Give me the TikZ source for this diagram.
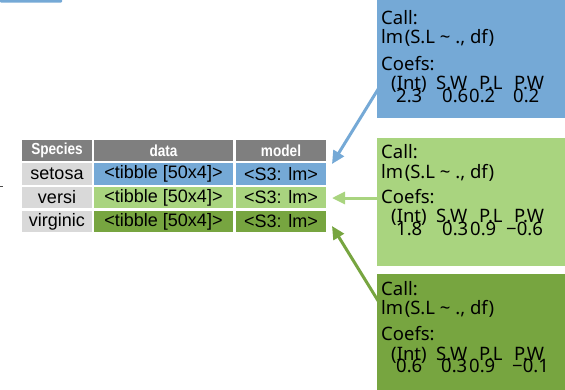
\documentclass[tikz,border=0pt]{standalone}
\usepackage{fontspec}
\setmainfont{Liberation Sans}
\newfontfamily\boxfont{Noto Sans}
\newfontfamily\headfont[FakeStretch=0.85]{Liberation Sans}
\usetikzlibrary{arrows.meta}
\definecolor{cblue}{HTML}{75A9D6}
\definecolor{clgreen}{HTML}{A9D47F}
\definecolor{cdgreen}{HTML}{77A540}
\definecolor{chead}{HTML}{7F7F7F}
\definecolor{cgray}{HTML}{D9D9D9}
\tikzset{
  cell/.style={inner sep=0pt, font=\fontsize{18}{18}\selectfont, text=black},
  headcell/.style={inner sep=0pt, fill=chead, minimum height=21pt, text=white, font=\headfont\bfseries\fontsize{16}{16}\selectfont},
  outbox/.style={inner sep=0pt, anchor=north west, minimum width=189pt},
  btxt/.style={inner sep=0pt, anchor=base west, font=\boxfont\fontsize{18.5}{18.5}\selectfont, text=black},
  arr/.style={line width=3pt, -{Triangle[length=13pt,width=12pt]}}
}
\begin{document}
\begin{tikzpicture}[x=1pt,y=-1pt]
\useasboundingbox (0,0) rectangle (565,389);
% top-left sliver
\fill[cblue, rounded corners=1pt] (0,-2) rectangle (62,2.5);
\fill[black!70] (0,185.5) rectangle (2.5,187);

% arrows (drawn first, boxes cover their tails)
\coordinate (s1) at (385,78);
\coordinate (t1) at (332,164);
\coordinate (s2) at (385,198);
\coordinate (t2) at (332,198);
\coordinate (s3) at (385,312);
\coordinate (t3) at (332,226);
\draw[arr, cblue] (s1) -- (t1);
\draw[arr, clgreen] (s2) -- (t2);
\draw[arr, cdgreen] (s3) -- (t3);

% table
\node[headcell, minimum width=70pt] (h1) at (57,150.5) {Species};
\node[headcell, minimum width=139pt] (h2) at (163.5,150.5) {data};
\node[headcell, minimum width=90pt] (h3) at (281,150.5) {model};

\node[cell, fill=cgray, minimum width=70pt, minimum height=22pt] (r1a) at (57,174) {setosa};
\node[cell, fill=cblue, minimum width=139pt, minimum height=22pt] (r1b) at (163.5,174) {<tibble [50x4]>};
\node[cell, fill=cblue, minimum width=90pt, minimum height=22pt] (r1c) at (281,174) {<S3: lm>};

\node[cell, fill=cgray, minimum width=70pt, minimum height=21pt] (r2a) at (57,197.5) {versi};
\node[cell, fill=clgreen, minimum width=139pt, minimum height=21pt] (r2b) at (163.5,197.5) {<tibble [50x4]>};
\node[cell, fill=clgreen, minimum width=90pt, minimum height=21pt] (r2c) at (281,197.5) {<S3: lm>};

\node[cell, fill=cgray, minimum width=70pt, minimum height=21pt] (r3a) at (57,221.5) {virginic};
\node[cell, fill=cdgreen, minimum width=139pt, minimum height=21pt] (r3b) at (163.5,221.5) {<tibble [50x4]>};
\node[cell, fill=cdgreen, minimum width=90pt, minimum height=21pt] (r3c) at (281,221.5) {<S3: lm>};

% output boxes
\node[outbox, fill=cblue, minimum height=122pt] (bb) at (377,-4) {};
\node[outbox, fill=clgreen, minimum height=128pt] (gb) at (377,138) {};
\node[outbox, fill=cdgreen, minimum height=120pt] (db) at (377,274) {};

% blue box text
\node[btxt] (b1) at (381,24) {Call:};
\node[btxt] (b2) at (381,43) {lm\kern1.5pt(S.L \textasciitilde\ ., df)};
\node[btxt] (b3) at (381,70) {Coefs:};
\node[btxt] (b4) at (391,89) {(Int)};
\node[btxt] (b5) at (436,89) {S.W};
\node[btxt] (b6) at (479,89) {P.L};
\node[btxt] (b7) at (514,89) {P.W};
\node[btxt] (b8) at (396,102) {2.3};
\node[btxt] (b9) at (442,102) {0.6};
\node[btxt] (b10) at (469,102) {0.2};
\node[btxt] (b11) at (513,102) {0.2};

% light green box text
\node[btxt] (g1) at (381,158) {Call:};
\node[btxt] (g2) at (381,178) {lm\kern1.5pt(S.L \textasciitilde\ ., df)};
\node[btxt] (g3) at (381,203) {Coefs:};
\node[btxt] (g4) at (391,222) {(Int)};
\node[btxt] (g5) at (436,222) {S.W};
\node[btxt] (g6) at (479,222) {P.L};
\node[btxt] (g7) at (514,222) {P.W};
\node[btxt] (g8) at (396,235) {1.8};
\node[btxt] (g9) at (442,235) {0.3};
\node[btxt] (g10) at (470,235) {0.9};
\node[btxt] (g11) at (506,235) {−0.6};

% dark green box text
\node[btxt] (d1) at (381,295) {Call:};
\node[btxt] (d2) at (381,314) {lm\kern1.5pt(S.L \textasciitilde\ ., df)};
\node[btxt] (d3) at (381,340) {Coefs:};
\node[btxt] (d4) at (391,360) {(Int)};
\node[btxt] (d5) at (436,360) {S.W};
\node[btxt] (d6) at (479,360) {P.L};
\node[btxt] (d7) at (514,360) {P.W};
\node[btxt] (d8) at (396,372) {0.6};
\node[btxt] (d9) at (441,372) {0.3};
\node[btxt] (d10) at (469,372) {0.9};
\node[btxt] (d11) at (512,372) {−0.1};
\end{tikzpicture}
\end{document}
